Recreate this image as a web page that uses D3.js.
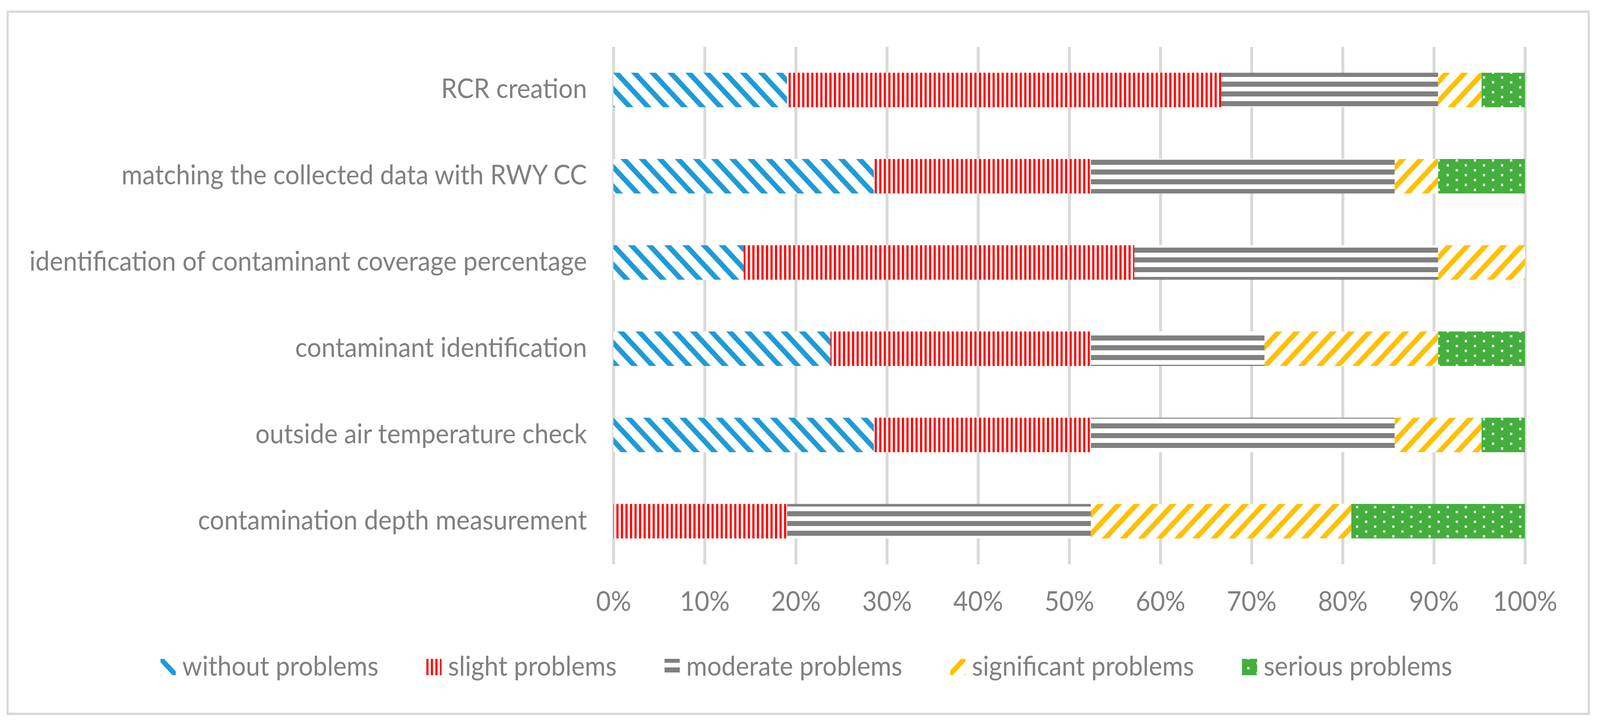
<!DOCTYPE html>
<html>
<head>
<meta charset="utf-8">
<script src="https://cdn.jsdelivr.net/npm/d3@7"></script>
<style>
  html, body { margin: 0; padding: 0; background: #fff; overflow: hidden; }
  svg { display: block; width: 100vw; height: 100vh; }
  text { font-family: "Lato", "Carlito", "Calibri", sans-serif; fill: #808080; }
</style>
</head>
<body>
<svg id="chart" viewBox="0 0 4413 1859" preserveAspectRatio="none"></svg>
<script>
// survey answers, 21 respondents per task (top row first)
const categories = [
  "RCR creation",
  "matching the collected data with RWY CC",
  "identification of contaminant coverage percentage",
  "contaminant identification",
  "outside air temperature check",
  "contamination depth measurement"
];
const seriesNames = [
  "without problems",
  "slight problems",
  "moderate problems",
  "significant problems",
  "serious problems"
];
const withoutProblems = [4, 6, 3, 5, 6, 0];
const slightProblems = [10, 5, 9, 6, 5, 4];
const moderateProblems = [5, 7, 7, 4, 7, 7];
const significantProblems = [1, 1, 2, 4, 2, 6];
const seriousProblems = [1, 2, 0, 2, 1, 4];
const tickValues = [0, 0.1, 0.2, 0.3, 0.4, 0.5, 0.6, 0.7, 0.8, 0.9, 1];

const seriesValues = [withoutProblems, slightProblems, moderateProblems, significantProblems, seriousProblems];
const rows = categories.map((c, i) => {
  const r = { category: c };
  seriesNames.forEach((s, j) => (r[s] = seriesValues[j][i]));
  return r;
});

const plot = { left: 1692, right: 4206, top: 120, bottom: 1445 };
const fontSize = 70;

const svg = d3.select("#chart");

// hatch patterns, Excel style
const defs = svg.append("defs");

const pBlue = defs.append("pattern").attr("id", "p0")
  .attr("patternUnits", "userSpaceOnUse").attr("width", 50).attr("height", 50)
  .attr("x", 1690).attr("y", 186);
pBlue.append("rect").attr("width", 50).attr("height", 50).attr("fill", "#fff");
pBlue.append("polygon").attr("points", "0,0 19,0 50,31 50,50").attr("fill", "#1E9BD7");
pBlue.append("polygon").attr("points", "0,31 19,50 0,50").attr("fill", "#1E9BD7");

const pRed = defs.append("pattern").attr("id", "p1")
  .attr("patternUnits", "userSpaceOnUse").attr("width", 12.5).attr("height", 20);
pRed.append("rect").attr("width", 12.5).attr("height", 20).attr("fill", "#fff");
pRed.append("rect").attr("width", 6).attr("height", 20).attr("fill", "#FF0000");

const pGrey = defs.append("pattern").attr("id", "p2")
  .attr("patternUnits", "userSpaceOnUse").attr("width", 20).attr("height", 25).attr("y", 9);
pGrey.append("rect").attr("width", 20).attr("height", 25).attr("fill", "#fff");
pGrey.append("rect").attr("width", 20).attr("height", 13).attr("fill", "#808080");

const pYellow = defs.append("pattern").attr("id", "p3")
  .attr("patternUnits", "userSpaceOnUse").attr("width", 50).attr("height", 50)
  .attr("y", 186);
pYellow.append("rect").attr("width", 50).attr("height", 50).attr("fill", "#fff");
pYellow.append("polygon").attr("points", "50,0 31,0 0,31 0,50").attr("fill", "#FFC000");
pYellow.append("polygon").attr("points", "50,31 31,50 50,50").attr("fill", "#FFC000");

const pGreen = defs.append("pattern").attr("id", "p4")
  .attr("patternUnits", "userSpaceOnUse").attr("width", 50).attr("height", 25)
  .attr("x", 15).attr("y", 8);
pGreen.append("rect").attr("width", 50).attr("height", 25).attr("fill", "#44AF3C");
pGreen.append("rect").attr("x", 0).attr("y", 0).attr("width", 6).attr("height", 6).attr("fill", "#fff");
pGreen.append("rect").attr("x", 25).attr("y", 12.5).attr("width", 6).attr("height", 6).attr("fill", "#fff");

const fillFor = (i) => `url(#p${i})`;

// outer frame
svg.append("rect")
  .attr("x", 21).attr("y", 30)
  .attr("width", 4361).attr("height", 1798)
  .attr("fill", "none")
  .attr("stroke", "#D9D9D9")
  .attr("stroke-width", 6);

const x = d3.scaleLinear().domain([0, 1]).range([plot.left, plot.right]);
const y = d3.scaleBand()
  .domain(categories)
  .range([plot.top, plot.bottom])
  .paddingInner(0.6)
  .paddingOuter(0.3);

// gridlines
const grid = svg.append("g")
  .attr("transform", `translate(0,${plot.bottom})`)
  .call(d3.axisBottom(x).tickValues(tickValues).tickSize(-(plot.bottom - plot.top)).tickFormat(""));
grid.select(".domain").remove();
grid.selectAll("line").attr("stroke", "#D9D9D9").attr("stroke-width", 8);

// stacked bars
const stacked = d3.stack().keys(seriesNames).offset(d3.stackOffsetExpand)(rows);

svg.selectAll(".layer")
  .data(stacked)
  .enter()
  .append("g")
  .classed("layer", true)
  .attr("fill", (d, i) => fillFor(i))
  .selectAll("rect")
  .data((d) => d)
  .enter()
  .append("rect")
  .attr("x", (d) => x(d[0]))
  .attr("y", (d) => y(d.data.category))
  .attr("width", (d) => x(d[1]) - x(d[0]))
  .attr("height", y.bandwidth());

// x axis labels
const xAxis = svg.append("g")
  .attr("transform", `translate(0,${plot.bottom})`)
  .call(d3.axisBottom(x).tickValues(tickValues).tickSize(0).tickFormat(d3.format(".0%")));
xAxis.select(".domain").remove();
xAxis.selectAll("text")
  .attr("y", 119)
  .attr("dy", 0)
  .style("font-size", `${fontSize}px`)
  .attr("fill", "#808080");

// category labels
const yAxis = svg.append("g")
  .attr("transform", `translate(${plot.left},0)`)
  .call(d3.axisLeft(y).tickSize(0).tickPadding(73));
yAxis.select(".domain").remove();
yAxis.selectAll("text")
  .attr("dy", "0.3em")
  .style("font-size", `${fontSize}px`)
  .attr("fill", "#808080");

// legend
const legend = svg.append("g");
const items = legend.selectAll("g")
  .data(seriesNames)
  .enter()
  .append("g");

items.append("rect")
  .attr("width", 42)
  .attr("height", 42)
  .attr("y", 1687)
  .attr("fill", (d, i) => fillFor(i));

items.append("text")
  .attr("x", 60)
  .attr("y", 1730)
  .style("font-size", `${fontSize}px`)
  .text((d) => d);

let pos = 0;
const offsets = [];
items.each(function () {
  offsets.push(pos);
  pos += 60 + d3.select(this).select("text").node().getComputedTextLength() + 132;
});
const legendWidth = pos - 132;
const legendStart = 2224 - legendWidth / 2;
items.attr("transform", (d, i) => `translate(${legendStart + offsets[i]},0)`);
</script>
</body>
</html>
